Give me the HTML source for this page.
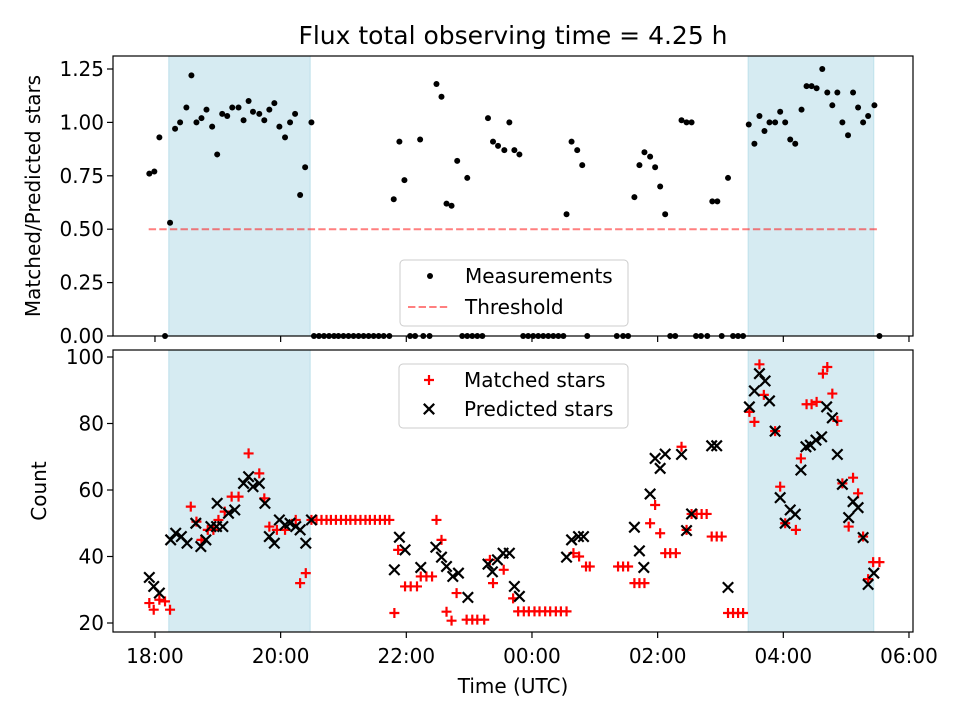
<!DOCTYPE html>
<html><head><meta charset="utf-8"><style>
body{margin:0;background:#fff}
svg text{font-family:"DejaVu Sans","Liberation Sans",sans-serif;fill:#000}
</style></head><body>
<svg id="chart" width="960" height="720" xmlns="http://www.w3.org/2000/svg">
<rect width="960" height="720" fill="#fff"/>
<text x="513" y="44" font-size="25" text-anchor="middle">Flux total observing time = 4.25 h</text>
<g id="topPanel"></g><g id="botPanel"></g>
</svg>
<script>
// hours after 18:00 UTC
const spans=[[0.22,2.47],[9.44,11.44]];
const xTicks=[0,2,4,6,8,10,12];
const xTickLabels=["18:00","20:00","22:00","00:00","02:00","04:00","06:00"];
const ratioTicks=[0,0.25,0.5,0.75,1.0,1.25];
const countTicks=[20,40,60,80,100];
const threshold=0.5;
const ratioT=[-0.09,-0.01,0.07,0.24,0.32,0.40,0.50,0.58,0.66,0.74,0.82,0.91,0.99,1.07,1.15,1.23,1.33,1.41,1.49,1.56,1.66,1.74,1.82,1.90,1.98,2.07,2.15,2.23,2.31,2.39,2.49,
3.80,3.89,3.97,4.22,4.48,4.56,4.64,4.72,4.81,4.97,5.30,5.38,5.46,5.56,5.64,5.72,5.80,6.55,6.63,6.72,6.80,7.63,7.71,7.79,7.88,7.96,8.04,8.12,8.38,8.46,8.54,8.87,8.95,9.12,
9.45,9.54,9.62,9.70,9.78,9.87,9.95,10.03,10.11,10.19,10.29,10.37,10.45,10.53,10.62,10.70,10.78,10.86,10.94,11.03,11.11,11.19,11.27,11.35,11.45];
const ratioV=[0.76,0.77,0.93,0.53,0.97,1.00,1.07,1.22,1.00,1.02,1.06,0.98,0.85,1.04,1.03,1.07,1.07,1.01,1.10,1.05,1.04,1.01,1.06,1.09,0.98,0.93,1.00,1.04,0.66,0.79,1.00,
0.64,0.91,0.73,0.92,1.18,1.12,0.62,0.61,0.82,0.74,1.02,0.91,0.89,0.87,1.00,0.87,0.85,0.57,0.91,0.87,0.80,0.65,0.80,0.86,0.84,0.79,0.70,0.57,1.01,1.00,1.00,0.63,0.63,0.74,
0.99,0.90,1.03,0.96,1.00,1.00,1.05,1.00,0.92,0.90,1.06,1.17,1.17,1.16,1.25,1.14,1.08,1.14,1.00,0.94,1.14,1.07,1.00,1.03,1.08];
const zeroT=[0.16,2.53,2.61,2.69,2.77,2.85,2.92,3.00,3.08,3.16,3.24,3.32,3.40,3.48,3.56,3.64,3.73,4.06,4.14,4.27,4.37,4.89,4.97,5.05,5.13,5.21,5.86,5.94,6.02,6.10,6.18,6.26,6.34,6.42,6.50,6.88,7.35,7.45,7.53,8.20,8.28,8.61,8.69,8.79,9.02,9.20,9.28,9.36,11.53];
const matchedT=[-0.09,-0.02,0.07,0.16,0.24,0.57,0.66,0.74,0.84,0.93,1.01,1.11,1.22,1.33,1.49,1.66,1.74,1.82,1.94,2.07,2.24,2.31,2.40,
2.49,2.57,2.65,2.73,2.80,2.88,2.96,3.04,3.11,3.19,3.27,3.35,3.42,3.50,3.58,3.66,3.73,
3.81,3.87,3.98,4.07,4.17,4.23,4.32,4.41,4.48,4.56,4.64,4.72,4.80,4.96,5.05,5.13,5.24,5.33,5.38,5.55,5.70,
5.78,5.87,5.95,6.04,6.12,6.21,6.29,6.38,6.46,6.55,6.66,6.75,6.86,6.92,
7.37,7.45,7.53,7.63,7.71,7.79,7.88,7.96,8.04,8.12,8.20,8.29,8.38,8.46,8.54,8.62,8.70,8.78,8.86,8.94,9.02,9.12,9.20,9.28,9.36,
9.46,9.54,9.62,9.69,9.87,9.95,10.03,10.20,10.28,10.37,10.45,10.53,10.63,10.70,10.78,10.86,10.94,11.04,11.11,11.19,11.27,11.35,11.43,11.53];
const matchedV=[26,24,27,26.5,24,55,50.5,45,48,48,51,53.5,58,58,71,65,57.5,49,48,48,51,32,35,
51,51,51,51,51,51,51,51,51,51,51,51,51,51,51,51,51,
23,42,31,31,31,34,34,34,51,45,23.4,20.7,29,21,21,21,21,39,32,36,27.4,
23.5,23.5,23.5,23.5,23.5,23.5,23.5,23.5,23.5,23.5,41,40,37,37,
37,37,37,32,32,32,50,55.5,47,41,41,41,73,48,52.8,52.8,52.8,52.8,46,46,46,23,23,23,23,
83.5,80.5,97.8,88.6,77.7,61,50,48,69.5,85.8,85.8,86.5,95,97,89,80.8,62,49,63.7,59,46,33.2,38.3,38.3];
const predT=[-0.09,-0.02,0.07,0.25,0.33,0.42,0.51,0.65,0.73,0.81,0.89,0.98,0.99,1.08,1.17,1.27,1.41,1.49,1.56,1.66,1.75,1.82,1.90,1.98,2.07,2.15,2.24,2.31,2.40,2.49,
3.81,3.89,3.98,4.23,4.47,4.56,4.64,4.74,4.83,4.98,5.30,5.37,5.45,5.54,5.64,5.72,5.80,6.55,6.63,6.74,6.82,
7.63,7.71,7.78,7.88,7.96,8.04,8.12,8.38,8.46,8.54,8.86,8.94,9.12,
9.46,9.54,9.62,9.71,9.78,9.87,9.95,10.03,10.11,10.19,10.28,10.36,10.43,10.52,10.61,10.69,10.78,10.86,10.94,11.04,11.11,11.19,11.27,11.35,11.44];
const predV=[33.7,31,29,45,47,46,44,50,43,45,49,49,56,49,53,54,62,64,61,62,56,46,44,51,49.5,50,49,48,44,51,
36,45.8,42,36.7,42.8,39.8,37,34,35,27.7,37.7,35.4,39,41,41,31,28,39.8,45,46,46,
48.8,41.7,36.7,58.8,69.5,66.5,70.8,70.7,47.8,52.8,73.3,73.3,30.7,
85,89.8,95,92.8,86.8,77.7,57.7,50,54,52.7,66,73,73.5,75,76,85,81.7,70.7,61.7,51.7,56.5,54.7,45.7,31.6,35];

const NS="http://www.w3.org/2000/svg";
const FS=20;
const L=113,R=913,XMIN=-0.668,XMAX=12.064;
const sx=h=>L+(h-XMIN)/(XMAX-XMIN)*(R-L);
const T1=56,B1=336,T2=350,B2=632;
const sy1=v=>336-v*213.6;
const sy2=c=>357+(100-c)*3.325;
function el(p,tag,a){const e=document.createElementNS(NS,tag);for(const k in a)e.setAttribute(k,a[k]);p.appendChild(e);return e;}
const topG=document.getElementById('topPanel'),botG=document.getElementById('botPanel');
[[topG,T1,B1],[botG,T2,B2]].forEach(([g,t,b])=>{
  spans.forEach(s=>{
    const r=el(g,'rect',{x:sx(s[0]),y:t,width:sx(s[1])-sx(s[0]),height:b-t,fill:'#add8e6','fill-opacity':0.5,stroke:'#add8e6','stroke-opacity':0.7});
    
    
  });
});
const th=el(topG,'line',{x1:sx(-0.1),x2:sx(11.53),y1:sy1(threshold),y2:sy1(threshold),stroke:'#ff0000','stroke-opacity':0.5,'stroke-width':2,'stroke-dasharray':'7.4,3.2'});


ratioT.forEach((t,i)=>{const c=el(topG,'circle',{cx:sx(t),cy:sy1(ratioV[i]),r:3,fill:'#000'});

});
zeroT.forEach(t=>{const c=el(topG,'circle',{cx:sx(t),cy:sy1(0),r:3,fill:'#000'});

});
function plus(g,x,y,col){const s=5;el(g,'path',{d:`M${x-s},${y}H${x+s}M${x},${y-s}V${y+s}`,stroke:col,'stroke-width':2.2});}
function cross(g,x,y,col){const s=5.2;el(g,'path',{d:`M${x-s},${y-s}L${x+s},${y+s}M${x-s},${y+s}L${x+s},${y-s}`,stroke:col,'stroke-width':2.2});}
const mg=el(botG,'g',{});


matchedT.forEach((t,i)=>plus(mg,sx(t),sy2(matchedV[i]),'#ff0000'));
const pg=el(botG,'g',{});


predT.forEach((t,i)=>cross(pg,sx(t),sy2(predV[i]),'#000'));
[[topG,T1,B1,ratioTicks,sy1,v=>v.toFixed(2),'Matched/Predicted stars',false],[botG,T2,B2,countTicks,sy2,v=>String(v),'Count',true]].forEach(([g,t,b,ticks,sy,fmt,lab,xl])=>{
  const f=el(g,'rect',{x:L,y:t,width:R-L,height:b-t,fill:'none',stroke:'#000','stroke-width':1.2});
  
  
  ticks.forEach(v=>{const y=sy(v);el(g,'line',{x1:L-6,x2:L,y1:y,y2:y,stroke:'#000','stroke-width':1.2});
    const tx=el(g,'text',{x:L-9,y:y+7,'font-size':FS,'text-anchor':'end'});tx.textContent=fmt(v);
    
    });
  xTicks.forEach((h,i)=>{const x=sx(h);el(g,'line',{x1:x,x2:x,y1:b,y2:b+6,stroke:'#000','stroke-width':1.2});
    if(xl){const tx=el(g,'text',{x:x,y:b+31,'font-size':FS,'text-anchor':'middle'});tx.textContent=xTickLabels[i];
    
    }});
  const yl=el(g,'text',{x:0,y:0,'font-size':FS,'text-anchor':'middle',transform:`translate(${xl?46:40},${(t+b)/2}) rotate(-90)`});yl.textContent=lab;
  
  
});
const xt=el(botG,'text',{x:513,y:693,'font-size':FS,'text-anchor':'middle'});xt.textContent='Time (UTC)';


function legend(g,x,y,w,h,r0,dy,items){const lg=el(g,'g',{});
  
  
  el(lg,'rect',{x:x,y:y,width:w,height:h,rx:4,fill:'#fff','fill-opacity':0.8,stroke:'#ccc'});
  items.forEach((it,i)=>{const cy=r0+i*dy;it[0](lg,x+30,cy);
    const tx=el(lg,'text',{x:x+65,y:cy+7,'font-size':FS});tx.textContent=it[1];
    
    });}
legend(topG,400,260,228,66,276,31,[[(g,x,y)=>el(g,'circle',{cx:x,cy:y,r:3,fill:'#000'}),'Measurements'],
 [(g,x,y)=>el(g,'line',{x1:x-22,x2:x+18,y1:y,y2:y,stroke:'#ff0000','stroke-opacity':0.5,'stroke-width':2,'stroke-dasharray':'7.4,3.2'}),'Threshold']]);
legend(botG,399,364,229,64,380,29,[[(g,x,y)=>plus(g,x,y,'#ff0000'),'Matched stars'],[(g,x,y)=>cross(g,x,y,'#000'),'Predicted stars']]);
</script>
</body></html>
